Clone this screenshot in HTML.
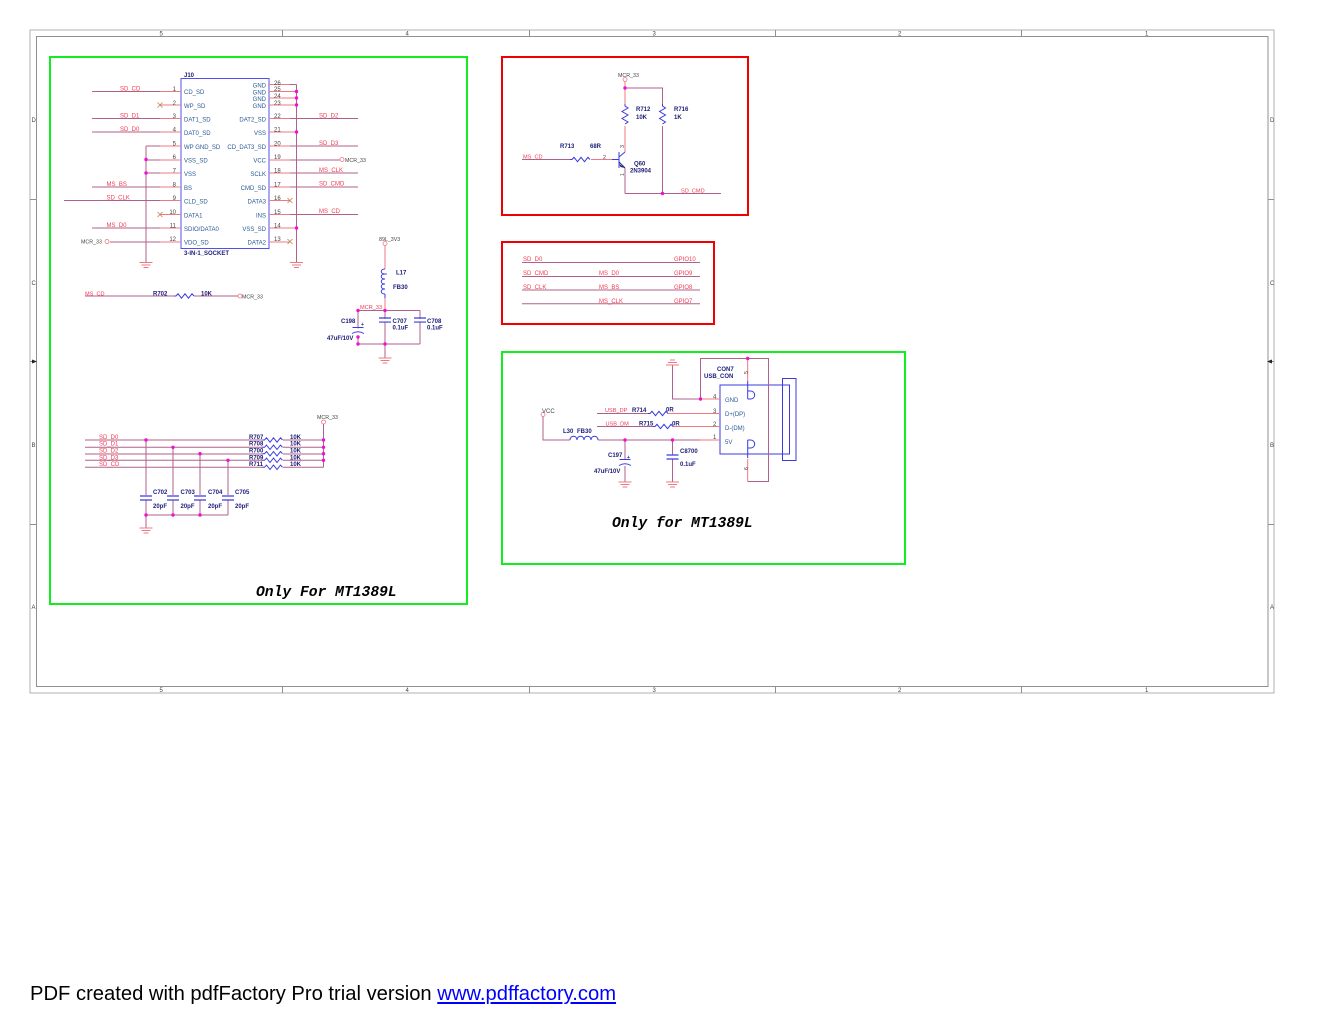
<!DOCTYPE html>
<html>
<head>
<meta charset="utf-8">
<style>
html,body{margin:0;padding:0;background:#fff;width:1320px;height:1020px;overflow:hidden}
svg{position:absolute;left:0;top:0}
text{font-family:"Liberation Sans",sans-serif;font-size:6px}
.n{fill:#f03c50;font-size:5.6px}
.p{fill:#2a5a96}
.b{fill:#1c1c78;font-weight:bold}
.k{fill:#444;font-size:5.300px}
.g{fill:#444;font-size:5px}
.w{stroke:#b0608c;stroke-width:1;fill:none}
.q{stroke:#f07880;stroke-width:1;fill:none}
.u{stroke:#3a3ae0;stroke-width:1;fill:none}
.m{font-family:"Liberation Mono",monospace;font-size:14.67px;font-weight:bold;font-style:italic;fill:#000}
#foot{position:absolute;left:30px;top:982px;font:20.200px/24px "Liberation Sans",sans-serif;color:#000;white-space:nowrap}
#foot span{color:#00f;text-decoration:underline}
</style>
</head>
<body>
<svg width="1320" height="1020" viewBox="0 0 1320 1020">
<defs>
<path id="r" d="M0 0l2 0 2-2.200 3.500 4.400 3.500-4.400 3.500 4.400 3.500-4.400 2 2.200" fill="none" stroke="#3a3ae0" stroke-width="1"/>
<path id="rv" d="M0 0l0 2 3 2-6 3.500 6 3.500-6 3.500 6 3.500-3 2" fill="none" stroke="#3a3ae0" stroke-width="1"/>
<g id="gnd" stroke="#f07880" stroke-width="1" fill="none"><path d="M-6.500 0h13M-4.500 2.500h9M-2.500 5h5"/></g>
<circle id="d" r="1.700" fill="#f010d0"/>
<path id="x" d="M-2.500-2.500l5 5M-2.500 2.500l5-5" stroke="#c08050" stroke-width=".8" fill="none"/>
<circle id="o" r="2" fill="#fff" stroke="#f07880" stroke-width=".8"/>
<g id="cap"><path d="M-6 0h12M-6 4h12" stroke="#3a3ae0" stroke-width="1.200" fill="none"/></g>
<g id="ecap"><path d="M-5.500 0h11M-6 6q6-3.500 12 0" stroke="#3a3ae0" stroke-width="1" fill="none"/></g>
</defs>

<!-- frame -->
<g fill="none">
<rect x="30" y="30" width="1244" height="663" stroke="#b0b0b0"/>
<rect x="36.500" y="36.500" width="1231.500" height="650" stroke="#909090"/>
<path stroke="#909090" d="M282.500 30v6M529.500 30v6M775.500 30v6M1021.500 30v6M282.500 687v6M529.500 687v6M775.500 687v6M1021.500 687v6M30 199.500h6M30 361.500h6M30 524.500h6M1268 199.500h6M1268 361.500h6M1268 524.500h6"/>
</g>
<path d="M32 359.500l5 2-5 2z" fill="#222"/><path d="M1272 359.500l-5 2 5 2z" fill="#222"/>
<g class="g">
<text x="159.500" y="35.500">5</text><text x="405.500" y="35.500">4</text><text x="652.500" y="35.500">3</text><text x="898" y="35.500">2</text><text x="1145" y="35.500">1</text>
<text x="159.500" y="692">5</text><text x="405.500" y="692">4</text><text x="652.500" y="692">3</text><text x="898" y="692">2</text><text x="1145" y="692">1</text>
<text x="31.500" y="122">D</text><text x="31.500" y="285">C</text><text x="31.500" y="447">B</text><text x="31.500" y="609">A</text>
<text x="1270" y="122">D</text><text x="1270" y="285">C</text><text x="1270" y="447">B</text><text x="1270" y="609">A</text>
</g>

<!-- boxes -->
<g fill="none" stroke-width="2">
<rect x="50" y="57" width="417" height="547" stroke="#10ee20"/>
<rect x="502" y="352" width="403" height="212" stroke="#10ee20"/>
<rect x="502" y="57" width="246" height="158" stroke="#f00000"/>
<rect x="502" y="242" width="212" height="82" stroke="#f00000"/>
</g>

<!-- J10 -->
<rect x="181" y="78.500" width="88" height="170" fill="none" stroke="#5050f0" stroke-width="1"/>
<path class="w" d="M92 91.500h68M92 118.500h68M92 132h68M146 146h14M146 160h14M146 173h14M92 187h68M64 200.500h96M92 228h68M146 146v116M110 242h50"/>
<path class="q" d="M160 91.500h21M160 105h21M160 118.500h21M160 132h21M160 146h21M160 160h21M160 173h21M160 187h21M160 200.500h21M160 214.500h21M160 228h21M160 242h21"/>
<path class="w" d="M269 84.500h27.500M290 118.500h68M290 146h68M290 160h50M290 173h68M290 187h68M290 214.500h68M296.500 84.500V262"/>
<path class="q" d="M269 84.500h21M269 91.500h27M269 98h27M269 105h27M269 118.500h21M269 132h27M269 146h21M269 160h21M269 173h21M269 187h21M269 200.500h21M269 214.500h21M269 228h27M269 242h21"/>
<use href="#gnd" x="146" y="262.500"/><use href="#gnd" x="296.500" y="262.500"/>
<use href="#x" x="160" y="105"/><use href="#x" x="160" y="214.500"/><use href="#x" x="290" y="200.500"/><use href="#x" x="290" y="241.500"/>
<use href="#o" x="107" y="241.500"/><use href="#o" x="342" y="159.500"/>
<use href="#d" x="146" y="159.500"/><use href="#d" x="146" y="173"/>
<use href="#d" x="296.500" y="91.500"/><use href="#d" x="296.500" y="98"/><use href="#d" x="296.500" y="105"/><use href="#d" x="296.500" y="132"/><use href="#d" x="296.500" y="228"/>
<g class="p">
<text x="184" y="94">CD_SD</text><text x="184" y="108">WP_SD</text><text x="184" y="121.500">DAT1_SD</text><text x="184" y="135">DAT0_SD</text><text x="184" y="149">WP GND_SD</text><text x="184" y="162.500">VSS_SD</text><text x="184" y="176">VSS</text><text x="184" y="190">BS</text><text x="184" y="203.500">CLD_SD</text><text x="184" y="217.500">DATA1</text><text x="184" y="231">SDIO/DATA0</text><text x="184" y="244.500">VDO_SD</text>
</g>
<g class="p" text-anchor="end">
<text x="266" y="87.500">GND</text><text x="266" y="94.500">GND</text><text x="266" y="101">GND</text><text x="266" y="108">GND</text><text x="266" y="121.500">DAT2_SD</text><text x="266" y="135">VSS</text><text x="266" y="149">CD_DAT3_SD</text><text x="266" y="162.500">VCC</text><text x="266" y="176">SCLK</text><text x="266" y="190">CMD_SD</text><text x="266" y="203.500">DATA3</text><text x="266" y="217.500">INS</text><text x="266" y="231">VSS_SD</text><text x="266" y="244.500">DATA2</text>
</g>
<g class="k" text-anchor="end">
<text x="176" y="91">1</text><text x="176" y="105">2</text><text x="176" y="118">3</text><text x="176" y="131.500">4</text><text x="176" y="145.500">5</text><text x="176" y="159">6</text><text x="176" y="172.500">7</text><text x="176" y="186.500">8</text><text x="176" y="200">9</text><text x="176" y="214">10</text><text x="176" y="227.500">11</text><text x="176" y="241">12</text>
</g>
<g class="k">
<text x="274" y="85">26</text><text x="274" y="91">25</text><text x="274" y="98">24</text><text x="274" y="105">23</text><text x="274" y="118">22</text><text x="274" y="131.500">21</text><text x="274" y="145.500">20</text><text x="274" y="159">19</text><text x="274" y="172.500">18</text><text x="274" y="186.500">17</text><text x="274" y="200">16</text><text x="274" y="214">15</text><text x="274" y="227.500">14</text><text x="274" y="241">13</text>
</g>
<g class="n">
<text x="120" y="90.500">SD_CD</text><text x="120" y="117.500">SD_D1</text><text x="120" y="131">SD_D0</text><text x="106.500" y="186">MS_BS</text><text x="106.500" y="199.500">SD_CLK</text><text x="106.500" y="227">MS_D0</text>
<text x="319" y="117.500">SD_D2</text><text x="319" y="145">SD_D3</text><text x="319" y="172">MS_CLK</text><text x="319" y="185.500">SD_CMD</text><text x="319" y="213">MS_CD</text>
</g>
<text class="k" x="81" y="243.500">MCR_33</text><text class="k" x="345" y="162">MCR_33</text>
<text class="b" x="184" y="77">J10</text><text class="b" x="184" y="255">3-IN-1_SOCKET</text>

<!-- R702 -->
<path class="w" d="M85 296h89M194 296h44"/><use href="#r" x="174" y="296"/><use href="#o" x="240" y="296"/>
<text class="n" x="85" y="295.500">MS_CD</text><text class="b" x="153" y="295.500">R702</text><text class="b" x="201" y="295.500">10K</text><text class="k" x="242" y="298.500">MCR_33</text>

<!-- power -->
<use href="#o" x="385" y="243.500"/>
<path class="q" d="M385 245.500V269M385 298v12"/>
<path d="M385 269c-5 0-5 5 0 5s-5 0 0 0c-5 0-5 5 0 5-5 0-5 5 0 5-5 0-5 5 0 5-5 0-5 5 0 5" fill="none" stroke="#3a3ae0" stroke-width="1"/>
<path d="M385 294v4" class="u"/>
<path class="w" d="M358 310.500h62M358 344h62M420 310.500V344M385 310.500V358"/>
<use href="#cap" x="385" y="318"/><use href="#cap" x="420" y="318"/>
<rect x="412" y="319" width="16" height="2.500" fill="#fff"/><rect x="350" y="318" width="16" height="20" fill="#fff"/>
<rect x="379" y="319" width="12" height="2.500" fill="#fff"/>
<path class="w" d="M358 310.500v18M358 336v8"/>
<use href="#ecap" x="358" y="327.500"/>
<text class="b" x="361" y="326" style="font-size:5px">+</text>
<use href="#d" x="358" y="310.500"/><use href="#d" x="385" y="310.500"/><use href="#d" x="358" y="337"/><use href="#d" x="358" y="344"/><use href="#d" x="385" y="344"/>
<use href="#gnd" x="385" y="358"/>
<text class="k" x="379" y="241">89L_3V3</text><text class="b" x="396" y="274.500">L17</text><text class="b" x="393" y="289">FB30</text><text class="n" x="360" y="309">MCR_33</text>
<text class="b" x="341" y="323">C198</text><text class="b" x="327" y="340">47uF/10V</text><text class="b" x="392.500" y="323">C707</text><text class="b" x="392.500" y="329.500">0.1uF</text><text class="b" x="427" y="323">C708</text><text class="b" x="427" y="329.500">0.1uF</text>

<!-- RC net -->
<path class="w" d="M85 440h178M283 440h40.500M85 447.300h178M283 447.300h40.500M85 454h178M283 454h40.500M85 460.300h178M283 460.300h40.500M85 467.300h178M283 467.300h40.500M323.500 424v43.300M146 440v55M173 447v48M200 454v41M228 460v35M146 500v28M173 500v15M200 500v15M228 500v15M146 515h82"/>
<use href="#r" x="262.500" y="440"/><use href="#r" x="262.500" y="447.300"/><use href="#r" x="262.500" y="453.700"/><use href="#r" x="262.500" y="460.300"/><use href="#r" x="262.500" y="467.300"/>
<use href="#cap" x="146" y="496"/><use href="#cap" x="173" y="496"/><use href="#cap" x="200" y="496"/><use href="#cap" x="228" y="496"/>
<use href="#o" x="323.500" y="422"/><use href="#gnd" x="146" y="528"/>
<use href="#d" x="146" y="440"/><use href="#d" x="173" y="447.300"/><use href="#d" x="200" y="453.700"/><use href="#d" x="228" y="460.300"/>
<use href="#d" x="323.500" y="440"/><use href="#d" x="323.500" y="447.300"/><use href="#d" x="323.500" y="453.700"/><use href="#d" x="323.500" y="460.300"/>
<use href="#d" x="146" y="515"/><use href="#d" x="173" y="515"/><use href="#d" x="200" y="515"/>
<g class="n"><text x="99" y="439">SD_D0</text><text x="99" y="445.500">SD_D1</text><text x="99" y="452.500">SD_D2</text><text x="99" y="459.500">SD_D3</text><text x="99" y="466">SD_CD</text></g>
<g class="b"><text x="249" y="439">R707</text><text x="249" y="445.500">R708</text><text x="249" y="452.500">R700</text><text x="249" y="459.500">R709</text><text x="249" y="466">R711</text>
<text x="290" y="439">10K</text><text x="290" y="445.500">10K</text><text x="290" y="452.500">10K</text><text x="290" y="459.500">10K</text><text x="290" y="466">10K</text>
<text x="153" y="494">C702</text><text x="180.500" y="494">C703</text><text x="208" y="494">C704</text><text x="235" y="494">C705</text>
<text x="153" y="508">20pF</text><text x="180.500" y="508">20pF</text><text x="208" y="508">20pF</text><text x="235" y="508">20pF</text></g>
<text class="k" x="317" y="419">MCR_33</text>
<text class="m" x="256" y="596">Only For MT1389L</text>

<!-- red 1 -->
<use href="#o" x="625" y="79.500"/>
<path class="q" d="M625 81.500V104"/>
<path class="w" d="M625 88h37.500v16M662.500 126v67.500M625 193.500h96M625 168v25.500M522 159.500h48"/>
<path class="q" d="M625 126v26M591 159.500h22"/>
<use href="#rv" x="625" y="104"/><use href="#rv" x="662.500" y="104"/><use href="#r" x="570" y="159.500"/>
<path class="u" d="M612 159.500h7M619 152v16M619 157l6-5"/>
<path d="M619 162l6 6" stroke="#1c1c78" stroke-width="1" fill="none"/><path d="M625 168l-4.500-1-1.500-3z" fill="#1c1c78"/>
<use href="#d" x="625" y="88"/><use href="#d" x="662.500" y="193.500"/>
<text class="k" x="618" y="77">MCR_33</text>
<g class="b"><text x="636" y="111">R712</text><text x="636" y="119">10K</text><text x="674" y="111">R716</text><text x="674" y="119">1K</text><text x="560" y="148">R713</text><text x="590" y="148">68R</text><text x="634" y="165.500">Q60</text><text x="630" y="172.500">2N3904</text></g>
<text class="n" x="523" y="158.500">MS_CD</text><text class="n" x="681" y="192.500">SD_CMD</text>
<text class="k" x="603" y="159">2</text>
<text class="k" transform="translate(624,148) rotate(-90)">3</text><text class="k" transform="translate(624,176) rotate(-90)">1</text>

<!-- red 2 -->
<path class="w" d="M522 262.500h178M522 276.500h178M522 290h178M522 303.700h178"/>
<g class="n"><text x="523" y="261">SD_D0</text><text x="674" y="261">GPIO10</text><text x="523" y="275">SD_CMD</text><text x="599" y="275">MS_D0</text><text x="674" y="275">GPIO9</text><text x="523" y="289">SD_CLK</text><text x="599" y="289">MS_BS</text><text x="674" y="289">GPIO8</text><text x="599" y="303">MS_CLK</text><text x="674" y="303">GPIO7</text></g>

<!-- USB -->
<rect x="720" y="385" width="69.500" height="69" class="u"/>
<rect x="782.500" y="378.500" width="13.500" height="82" class="u"/>
<path class="w" d="M700.500 399V358.500h68v123h-21M672.500 365v34h34M543 416.500V440h27M597 413.500h51M597 426.500h56M598 440h102M625 440v19M625 466v16M672.500 440v15M672.500 459v23"/>
<path class="q" d="M747.700 358.500V381M747.700 459v22M668 413.500h52M673 426.500h47M700 399h20M700 440h20"/>
<use href="#r" x="648" y="413.500"/><use href="#r" x="653" y="426.500"/>
<path d="M570 440c0-5 7-5 7 0c0-5 7-5 7 0c0-5 7-5 7 0c0-5 7-5 7 0" fill="none" stroke="#3a3ae0"/>
<path class="u" d="M747.700 381v18M747.700 391h3a4 4 0 1 1 0 8h-3M747.700 440v18M747.700 440h3a4 4 0 1 1 0 8h-3"/>
<use href="#cap" x="672.500" y="455"/><use href="#ecap" x="625" y="459.500"/>
<text class="b" x="627" y="459" style="font-size:5px">+</text>
<use href="#gnd" x="625" y="482"/><use href="#gnd" x="672.500" y="482"/>
<g transform="translate(672.500,365) scale(1,-1)"><use href="#gnd"/></g>
<use href="#o" x="543" y="414.500"/>
<use href="#d" x="747.700" y="358.500"/><use href="#d" x="700.500" y="399"/><use href="#d" x="625" y="440"/><use href="#d" x="672.500" y="440"/>
<g class="b"><text x="717" y="371">CON7</text><text x="704" y="378">USB_CON</text><text x="632" y="412">R714</text><text x="666" y="411.500">0R</text><text x="639" y="425.500">R715</text><text x="672" y="425.500">0R</text><text x="563" y="433">L30</text><text x="577" y="433">FB30</text><text x="608" y="457">C197</text><text x="594" y="473">47uF/10V</text><text x="680" y="453">C8700</text><text x="680" y="466">0.1uF</text></g>
<g class="p"><text x="725" y="402">GND</text><text x="725" y="416">D+(DP)</text><text x="725" y="430">D-(DM)</text><text x="725" y="444">5V</text></g>
<g class="k"><text x="713" y="398.500">4</text><text x="713" y="413">3</text><text x="713" y="426">2</text><text x="713" y="439">1</text><text x="542" y="413">VCC</text></g>
<text class="k" transform="translate(748,374) rotate(-90)">5</text><text class="k" transform="translate(748,470) rotate(-90)">6</text>
<text class="n" x="605" y="412">USB_DP</text><text class="n" x="605.500" y="425.500">USB_DM</text>
<text class="m" x="612" y="527">Only for MT1389L</text>
</svg>
<div id="foot">PDF created with pdfFactory Pro trial version <span>www.pdffactory.com</span></div>
</body>
</html>
